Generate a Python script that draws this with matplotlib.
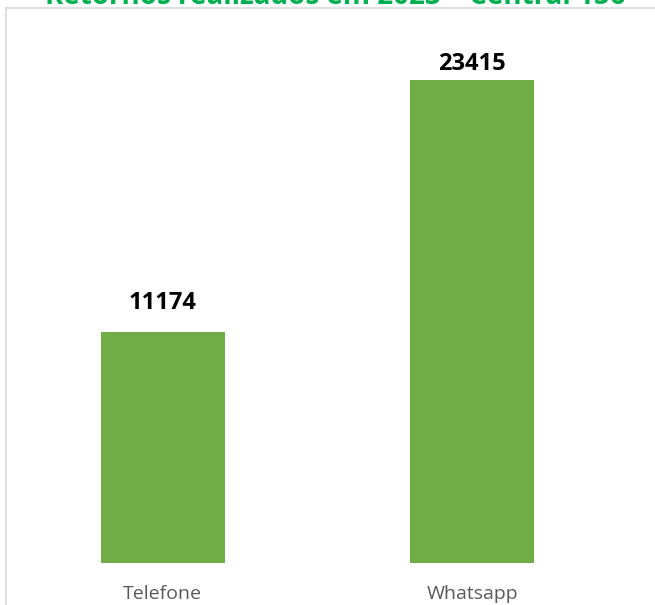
import matplotlib.pyplot as plt
from matplotlib.lines import Line2D

categories = ["Telefone", "Whatsapp"]
values = [11174, 23415]
title = "Retornos realizados em 2023 – Central 156"

W, H = 655, 605
fig = plt.figure(figsize=(W / 100, H / 100), dpi=100)

# plot area in pixel terms
ax = fig.add_axes([8 / W, 42 / H, 619 / W, (563 - 47) / H])
x = range(len(categories))
bars = ax.bar(x, values, width=0.4, color="#70AD47")
ax.set_xlim(-0.5, 1.5)
ax.set_ylim(0, 25000)
ax.set_yticks([])
ax.set_xticks(list(x))
ax.set_xticklabels(categories, fontsize=14, color="#595959", family="Open Sans")
ax.tick_params(axis="x", length=0, pad=16)
for s in ax.spines.values():
    s.set_visible(False)

# label offsets (points) - labels were moved by hand in the original
offsets = [21, 11]
for xi, v, off in zip(x, values, offsets):
    ax.annotate(str(v), (xi, v), xytext=(0, off), textcoords="offset points",
                ha="center", va="center", fontsize=17, fontweight="bold",
                family="Open Sans", color="black")

# chart area border (cut by image edge)
fig.add_artist(Line2D([6 / W, 1], [1 - 8 / H, 1 - 8 / H], color="#D9D9D9", lw=1.2,
                      transform=fig.transFigure))
fig.add_artist(Line2D([6 / W, 6 / W], [0, 1 - 8 / H], color="#D9D9D9", lw=1.2,
                      transform=fig.transFigure))

# title sits mostly above the image edge, as in the original
fig.text(335 / W, 1 - 4 / H, title, ha="center", va="baseline", fontsize=20,
         fontweight="bold", color="#00B050", family="Open Sans")

fig.savefig("out.png", dpi=100)
